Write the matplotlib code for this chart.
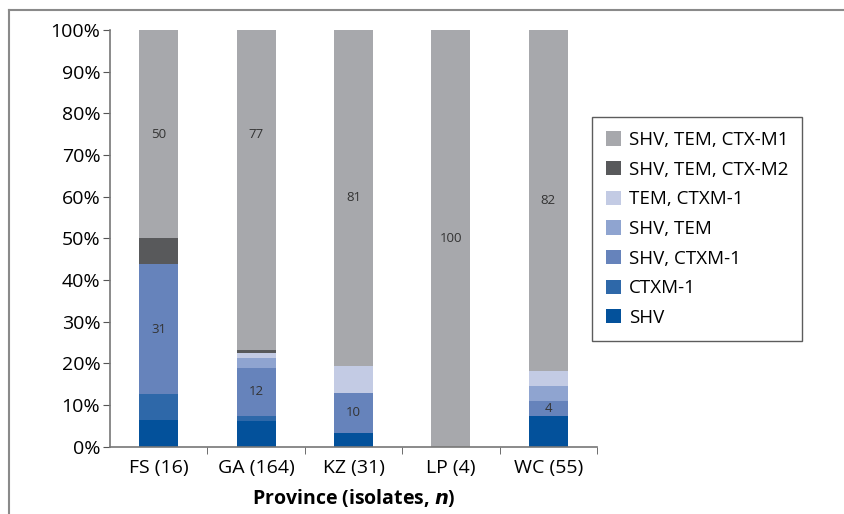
import numpy as np
import matplotlib
matplotlib.use("Agg")
import matplotlib.pyplot as plt
from matplotlib.lines import Line2D
from matplotlib.ticker import FixedLocator, PercentFormatter

plt.rcParams['font.family'] = ['Open Sans', 'DejaVu Sans']

# data: isolate counts per gene combination (bottom to top of each bar)
provinces = ["FS", "GA", "KZ", "LP", "WC"]
isolates = [16, 164, 31, 4, 55]
genes = ["SHV", "CTXM-1", "SHV, CTXM-1", "SHV, TEM", "TEM, CTXM-1",
         "SHV, TEM, CTX-M2", "SHV, TEM, CTX-M1"]
shv = [1, 10, 1, 0, 4]
ctxm1 = [1, 2, 0, 0, 0]
shv_ctxm1 = [5, 19, 3, 0, 2]
shv_tem = [0, 4, 0, 0, 2]
tem_ctxm1 = [0, 2, 2, 0, 2]
shv_tem_ctxm2 = [1, 1, 0, 0, 0]
shv_tem_ctxm1 = [8, 126, 25, 4, 45]
colors = ["#03519b", "#2e68a9", "#6683bb", "#8fa4d0", "#c3cbe4",
          "#58595b", "#a7a8ac"]

# labels printed inside bars: (province index, gene index, text)
bar_labels = [(0, 6, "50"), (0, 2, "31"), (1, 6, "77"), (1, 2, "12"),
              (2, 6, "81"), (2, 2, "10"), (3, 6, "100"), (4, 6, "82"),
              (4, 2, "4")]

counts = np.array([shv, ctxm1, shv_ctxm1, shv_tem, tem_ctxm1,
                   shv_tem_ctxm2, shv_tem_ctxm1], dtype=float)
pct = counts / np.array(isolates) * 100
bottoms = np.vstack([np.zeros(len(provinces)), np.cumsum(pct, axis=0)[:-1]])

fig = plt.figure(figsize=(8.44, 5.14), dpi=100)
ax = fig.add_axes([110 / 844, 1 - 446.5 / 514, 487 / 844, 416.5 / 514])

x = np.arange(len(provinces))
handles = []
for i, g in enumerate(genes):
    h = ax.bar(x, pct[i], bottom=bottoms[i], width=0.4, color=colors[i],
               label=g, linewidth=0)
    handles.append(h)

for pi, gi, txt in bar_labels:
    y = bottoms[gi, pi] + pct[gi, pi] / 2
    if pi == 1 and gi == 6:
        y = 75
    ax.text(x[pi], y, txt, ha="center", va="center", fontsize=9.5,
            color="#333333")

ax.set_xlim(-0.5, len(provinces) - 0.5)
ax.set_ylim(0, 100)
ax.set_yticks(np.arange(0, 101, 10))
ax.yaxis.set_major_formatter(PercentFormatter(decimals=0))
ax.set_xticks(x)
ax.set_xticklabels([f"{p} ({n})" for p, n in zip(provinces, isolates)],
                   fontsize=14)
ax.xaxis.set_minor_locator(FixedLocator(np.arange(0.5, len(provinces), 1)))
ax.tick_params(axis="x", which="major", length=0, pad=9)
ax.tick_params(axis="x", which="minor", length=5, color="#555555")
ax.tick_params(axis="y", labelsize=14, length=5, color="#555555", pad=2)
for s in ["top", "right"]:
    ax.spines[s].set_visible(False)
for s in ["left", "bottom"]:
    ax.spines[s].set_color("#777777")
    ax.spines[s].set_linewidth(1.2)

ax.set_xlabel("Province (isolates, $\\bfit{n}$)", fontsize=14,
              fontweight="bold", labelpad=7)

leg = fig.legend(handles[::-1], genes[::-1], loc="upper left",
                 bbox_to_anchor=(592 / 844, 1 - 117 / 514), fontsize=13.5,
                 frameon=True, fancybox=False, edgecolor="#333333",
                 handlelength=0.8, handleheight=0.8, handletextpad=0.4,
                 labelspacing=0.62, borderpad=0.75, borderaxespad=0)
leg.get_frame().set_linewidth(1.0)

# outer frame around the figure (top and left edges visible)
fig.add_artist(Line2D([9 / 844, 9 / 844], [0, 1 - 10 / 514],
                      color="#8a8a8a", linewidth=1.5))
fig.add_artist(Line2D([9 / 844, 1], [1 - 10 / 514, 1 - 10 / 514],
                      color="#8a8a8a", linewidth=1.5))

fig.savefig("out.png", dpi=100)
